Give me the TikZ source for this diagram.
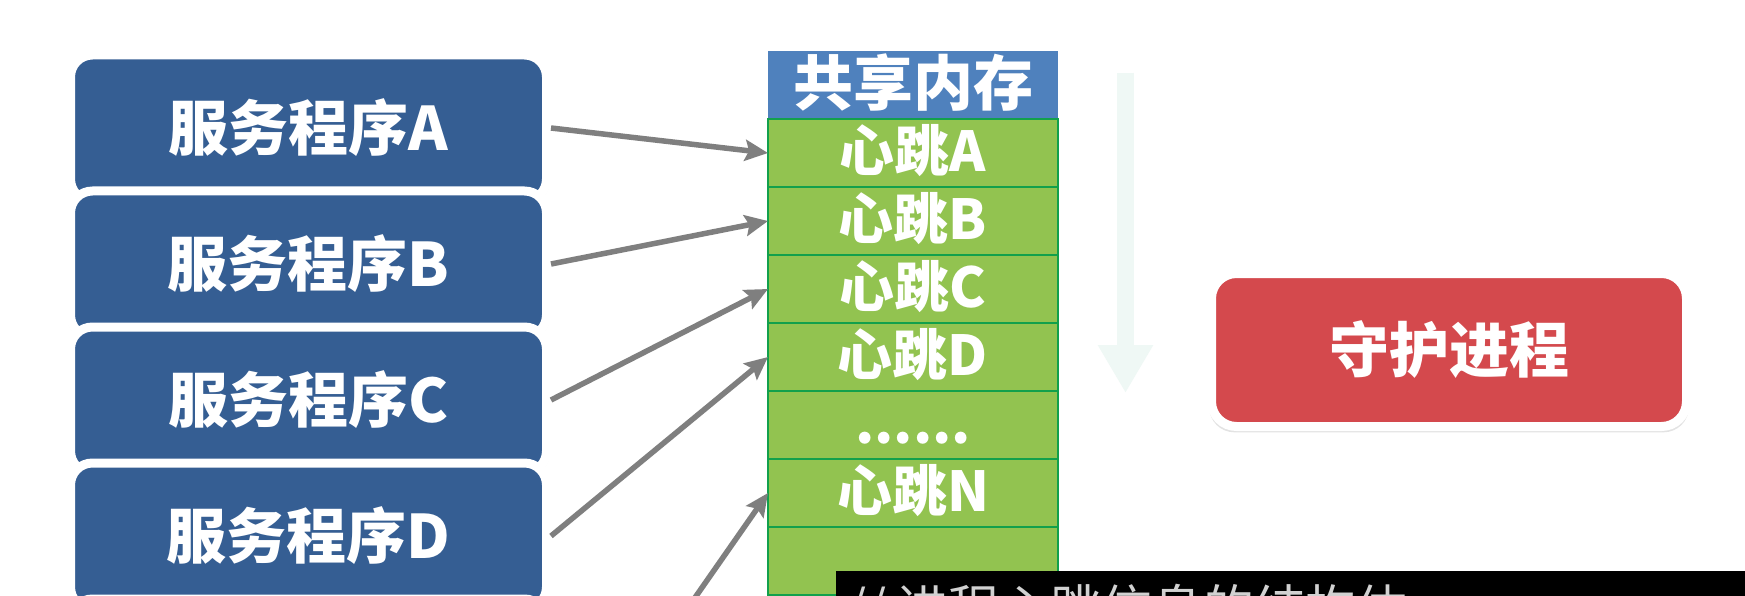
\documentclass[tikz,border=0pt]{standalone}
\usepackage{fontspec}
\setmainfont{Noto Sans CJK SC}
\usetikzlibrary{positioning, arrows.meta, shadows}
\definecolor{svcblue}{HTML}{355E93}
\definecolor{memblue}{HTML}{4F81BD}
\definecolor{cellgreen}{HTML}{92C350}
\definecolor{cellline}{HTML}{12A04C}
\definecolor{daemonred}{HTML}{D4494D}
\definecolor{arrowgray}{HTML}{7F7F7F}
\definecolor{fadegreen}{HTML}{EFF8F5}
\tikzset{
    service/.style={rectangle, rounded corners=22pt, draw=white, line width=9pt, fill=svcblue, minimum width=476pt, minimum height=146pt, text=white, font=\bfseries\fontsize{60pt}{66pt}\selectfont, text height=50pt, text depth=5pt, drop shadow={opacity=0.16, shadow xshift=0pt, shadow yshift=-2pt, shadow scale=1.012}},
    memhead/.style={rectangle, fill=memblue, minimum width=290pt, minimum height=68pt, outer sep=0pt, inner sep=0pt, text=white, font=\bfseries\fontsize{60pt}{66pt}\selectfont, text height=48pt, text depth=6pt},
    cell/.style={rectangle, draw=cellline, line width=2.5pt, fill=cellgreen, minimum width=290pt, minimum height=68pt, outer sep=0pt, inner sep=0pt, text=white, font=\bfseries\fontsize{55pt}{60pt}\selectfont, text height=44pt, text depth=7pt},
    daemon/.style={rectangle, rounded corners=25pt, draw=white, line width=9pt, fill=daemonred, minimum width=475pt, minimum height=153pt, text=white, font=\bfseries\fontsize{60pt}{66pt}\selectfont, text height=50pt, text depth=5pt, drop shadow={opacity=0.22, shadow xshift=0pt, shadow yshift=-5pt, shadow scale=1.01}},
    line/.style={-{Stealth[length=23pt, width=21pt, inset=4pt]}, line width=5.5pt, arrowgray},
    fade/.style={-{Triangle[length=48pt, width=52pt]}, line width=17pt, fadegreen},
    subtitle/.style={text=black!18, font=\fontsize{51pt}{56pt}\selectfont, inner sep=0pt}
}

\begin{document}
\begin{tikzpicture}[x=1pt, y=-1pt]
        	\clip (0,0) rectangle (1745,596);
        	\fill[white] (0,0) rectangle (1745,596);
        	
        	% chỉ báo mờ bên phải cột bộ nhớ
        	\coordinate (fadeTop) at (1125.5,73);
        	\coordinate (fadeTip) at (1125.5,393);
        	\draw[fade] (fadeTop) -- (fadeTip);
        	
        	% các chương trình dịch vụ
        	\node (svcA) [service] at (308.5,128) {服务程序A};
        	\node (svcB) [service] at (308.5,264) {服务程序B};
        	\node (svcC) [service] at (308.5,400) {服务程序C};
        	\node (svcD) [service] at (308.5,536) {服务程序D};
        	\node (svcE) [service] at (308.5,672) {};
        	
        	% bộ nhớ dùng chung
        	\node (mem) [memhead] at (913,85) {共享内存};
        	\node (beatA) [cell, below=0pt of mem] {心跳A};
        	\node (beatB) [cell, below=0pt of beatA] {心跳B};
        	\node (beatC) [cell, below=0pt of beatB] {心跳C};
        	\node (beatD) [cell, below=0pt of beatC] {心跳D};
        	\node (dots) [cell, below=0pt of beatD] {......};
        	\node (beatN) [cell, below=0pt of dots] {心跳N};
        	\node (blank) [cell, below=0pt of beatN] {};
        	
        	\node (guard) [daemon] at (1449,350) {守护进程};
        	
        	\draw[line] (svcA.east) -- (beatA.west);
        	\draw[line] (svcB.east) -- (beatB.west);
        	\draw[line] (svcC.east) -- (beatC.west);
        	\draw[line] (svcD.east) -- (beatD.west);
        	\coordinate (srcN) at (551,804);
        	\draw[line] (srcN) -- (beatN.west);
        	
        	% thanh phụ đề
        	\fill[black] (836,571) rectangle (1745,596);
        	\node (caption) [subtitle, anchor=base west] at (846,627) {// 进程心跳信息的结构体};
        	
        \end{tikzpicture}
\end{document}
